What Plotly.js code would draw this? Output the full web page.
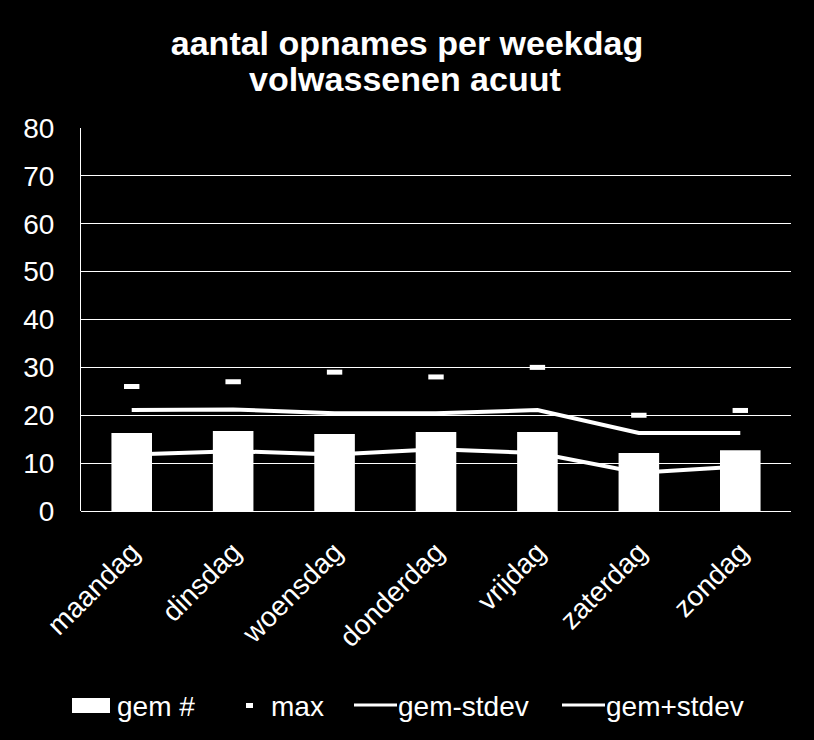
<!DOCTYPE html>
<html><head><meta charset="utf-8">
<script src="https://cdn.plot.ly/plotly-3.0.1.min.js"></script>
<style>html,body{margin:0;padding:0;background:#000;}</style>
</head><body>
<div id="chart" style="width:814px;height:740px;"></div>
<script>
const days = ["maandag","dinsdag","woensdag","donderdag","vrijdag","zaterdag","zondag"];
const gem = [16.3, 16.7, 16.1, 16.5, 16.5, 12.1, 12.7];
const maxv = [26, 27, 29, 28, 30, 20, 21];
const gemMinStdev = [11.8, 12.5, 11.8, 12.9, 12.1, 8.0, 9.3];
const gemPlusStdev = [21.1, 21.2, 20.4, 20.4, 21.1, 16.3, 16.3];
const yTicks = [0,10,20,30,40,50,60,70,80];
const titleLines = ["aantal opnames per weekdag", "volwassenen acuut"];
const legendNames = ["gem #", "max", "gem-stdev", "gem+stdev"];

const font = "Liberation Sans, Arial, sans-serif";
const W = 814, H = 740, L = 81, R = 23, T = 128, B = 229;
const pw = W - L - R, ph = H - T - B;
const px = v => (v - L) / pw;
const py = v => (H - B - v) / ph;

const traces = [
  {type:"bar", name:legendNames[0], x:days, y:gem, marker:{color:"#ffffff", line:{width:0}}},
  {type:"scatter", mode:"markers", name:legendNames[1], x:days, y:maxv,
   marker:{symbol:"line-ew-open", size:11, color:"#ffffff", line:{color:"#ffffff", width:5}}},
  {type:"scatter", mode:"lines", name:legendNames[2], x:days, y:gemMinStdev, line:{color:"#ffffff", width:4}},
  {type:"scatter", mode:"lines", name:legendNames[3], x:days, y:gemPlusStdev, line:{color:"#ffffff", width:4}}
];

// custom legend (matches the reference's wide swatch)
const shapes = [
  {type:"rect", xref:"paper", yref:"paper", x0:px(72), x1:px(110), y0:py(698), y1:py(713), fillcolor:"#fff", line:{width:0}},
  {type:"rect", xref:"paper", yref:"paper", x0:px(246), x1:px(253), y0:py(703), y1:py(708), fillcolor:"#fff", line:{width:0}},
  {type:"line", xref:"paper", yref:"paper", x0:px(354), x1:px(397), y0:py(705), y1:py(705), line:{color:"#fff", width:3}},
  {type:"line", xref:"paper", yref:"paper", x0:px(562), x1:px(605), y0:py(705), y1:py(705), line:{color:"#fff", width:3}}
];
const legendX = [115, 269, 396, 604];
const annotations = legendNames.map((n, i) => ({
  text:n, xref:"paper", yref:"paper", x:px(legendX[i]), y:py(706), xanchor:"left", yanchor:"middle",
  showarrow:false, font:{size:28, family:font, color:"#fff"}
}));
annotations.push({
  text:"<b>" + titleLines[1] + "</b>", xref:"paper", yref:"paper", x:px(405), y:py(79),
  xanchor:"center", yanchor:"middle", showarrow:false, font:{size:34, family:font, color:"#fff"}
});

const layout = {
  width:W, height:H,
  paper_bgcolor:"#000", plot_bgcolor:"#000",
  margin:{l:L, r:R, t:T, b:B},
  font:{family:font, color:"#fff"},
  title:{text:"<b>" + titleLines[0] + "</b>", font:{size:34, family:font, color:"#fff"},
         x:0.5, xanchor:"center", y:1 - 43 / H, yanchor:"middle"},
  bargap:0.6,
  xaxis:{tickangle:-45, tickfont:{size:28, family:font, color:"#fff"}, showgrid:false, showline:false,
         ticks:"", zeroline:false, ticklabelstandoff:18},
  yaxis:{range:[0,80], tickvals:yTicks, ticktext:yTicks.map(String), tickfont:{size:28, family:font, color:"#fff"},
         showgrid:true, gridcolor:"#fff", gridwidth:1, showline:true, linecolor:"#fff", linewidth:1,
         zeroline:true, zerolinecolor:"#fff", zerolinewidth:1, ticks:"", ticklabelstandoff:20},
  showlegend:false,
  shapes:shapes,
  annotations:annotations
};
Plotly.newPlot("chart", traces, layout, {displayModeBar:false, staticPlot:true});
</script>
</body></html>
